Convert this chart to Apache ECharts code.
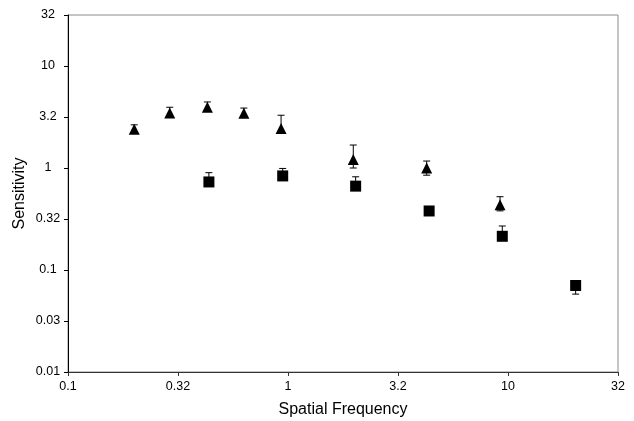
<!DOCTYPE html>
<html>
<head>
<meta charset="utf-8">
<script src="https://cdn.jsdelivr.net/npm/echarts@6/dist/echarts.min.js"></script>
<style>
  html, body { margin: 0; padding: 0; background: #fff; }
  #chart { width: 634px; height: 421px; }
</style>
</head>
<body>
<div id="chart"></div>
<script>
// Sensitivity vs spatial frequency, two conditions (triangles and squares)
const triFreq  = [0.2, 0.29, 0.43, 0.63, 0.93, 1.98, 4.27, 9.2];
const triSens  = [2.40, 3.46, 3.94, 3.44, 2.44, 1.21, 1.00, 0.436];
const triErrHi = [2.65, 3.94, 4.44, 3.87, 3.29, 1.68, 1.17, 0.523];
const triErrLo = [null, null, null, null, null, 1.00, 0.85, 0.38];

const sqFreq  = [0.437, 0.946, 2.03, 4.38, 9.42, 20.3];
const sqSens  = [0.73, 0.836, 0.664, 0.379, 0.214, 0.0705];
const sqErrHi = [0.90, 0.99, 0.82, null, 0.27, null];
const sqErrLo = [null, null, null, null, null, 0.058];

// Half-decade tick labels
const xTickValues = [0.1, 0.32, 1, 3.2, 10, 32];
const xTickLabels = ['0.1', '0.32', '1', '3.2', '10', '32'];
const yTickValues = [0.01, 0.03, 0.1, 0.32, 1, 3.2, 10, 32];
const yTickLabels = ['0.01', '0.03', '0.1', '0.32', '1', '3.2', '10', '32'];

const FONT = '"Liberation Sans", Arial, sans-serif';
const HALF_DECADE = Math.sqrt(10);

function nearestLabel(values, labels) {
  return function (v) {
    let best = 0, bestD = Infinity;
    values.forEach(function (t, i) {
      const d = Math.abs(Math.log10(t) - Math.log10(v));
      if (d < bestD) { bestD = d; best = i; }
    });
    return labels[best];
  };
}

function points(xs, ys) {
  return xs.map(function (x, i) { return [x, ys[i]]; });
}

function errRows(xs, ys, lo, hi) {
  return xs.map(function (x, i) {
    const l = lo[i] == null ? ys[i] : lo[i];
    const h = hi[i] == null ? ys[i] : hi[i];
    return [x, ys[i], l, h];
  });
}

function renderErr(params, api) {
  const x = api.value(0), y = api.value(1), lo = api.value(2), hi = api.value(3);
  const pMid = api.coord([x, y]);
  const pLo = api.coord([x, lo]);
  const pHi = api.coord([x, hi]);
  const cap = 3.5;
  const style = { stroke: '#000', lineWidth: 1 };
  const children = [{
    type: 'line',
    shape: { x1: pMid[0], y1: pLo[1], x2: pMid[0], y2: pHi[1] },
    style: style
  }];
  if (hi > y) {
    children.push({ type: 'line', shape: { x1: pHi[0] - cap, y1: pHi[1], x2: pHi[0] + cap, y2: pHi[1] }, style: style });
  }
  if (lo < y) {
    children.push({ type: 'line', shape: { x1: pLo[0] - cap, y1: pLo[1], x2: pLo[0] + cap, y2: pLo[1] }, style: style });
  }
  return { type: 'group', children: children };
}

const chart = echarts.init(document.getElementById('chart'), null, { renderer: 'canvas' });

chart.setOption({
  animation: false,
  backgroundColor: '#fff',
  textStyle: { fontFamily: FONT },
  grid: {
    left: 68, right: 16, top: 15, bottom: 49,
    outerBoundsMode: 'none',
    show: true, borderColor: '#8c8c8c', borderWidth: 1
  },
  xAxis: {
    type: 'log',
    logBase: HALF_DECADE,
    min: 0.1,
    max: Math.pow(10, 1.5),
    splitNumber: 5,
    name: 'Spatial Frequency',
    nameLocation: 'middle',
    nameGap: 30,
    nameMoveOverlap: false,
    nameTextStyle: { fontFamily: FONT, fontSize: 16, color: '#000' },
    axisLine: { show: true, lineStyle: { color: '#333', width: 1 } },
    axisTick: { show: true, inside: false, length: 4, lineStyle: { color: '#333' } },
    minorTick: { show: false },
    splitLine: { show: false },
    axisLabel: {
      fontFamily: FONT, fontSize: 12.5, color: '#000', margin: 8,
      formatter: nearestLabel(xTickValues, xTickLabels)
    }
  },
  yAxis: {
    type: 'log',
    logBase: HALF_DECADE,
    min: 0.01,
    max: Math.pow(10, 1.5),
    splitNumber: 7,
    name: 'Sensitivity',
    nameLocation: 'middle',
    nameGap: 40,
    nameMoveOverlap: false,
    nameTextStyle: { fontFamily: FONT, fontSize: 16, color: '#000' },
    axisLine: { show: true, lineStyle: { color: '#000', width: 1 } },
    axisTick: { show: true, inside: false, length: 4, lineStyle: { color: '#000' } },
    minorTick: { show: false },
    splitLine: { show: false },
    axisLabel: {
      fontFamily: FONT, fontSize: 12.5, color: '#000', margin: 20, align: 'center',
      formatter: nearestLabel(yTickValues, yTickLabels)
    }
  },
  series: [
    {
      name: 'triangle error',
      type: 'custom',
      renderItem: renderErr,
      data: errRows(triFreq, triSens, triErrLo, triErrHi),
      encode: { x: 0, y: 1 },
      z: 1,
      silent: true
    },
    {
      name: 'square error',
      type: 'custom',
      renderItem: renderErr,
      data: errRows(sqFreq, sqSens, sqErrLo, sqErrHi),
      encode: { x: 0, y: 1 },
      z: 1,
      silent: true
    },
    {
      name: 'triangles',
      type: 'scatter',
      symbol: 'triangle',
      symbolSize: [11, 11],
      itemStyle: { color: '#000', opacity: 1 },
      data: points(triFreq, triSens),
      z: 3
    },
    {
      name: 'squares',
      type: 'scatter',
      symbol: 'rect',
      symbolSize: 11,
      itemStyle: { color: '#000', opacity: 1 },
      data: points(sqFreq, sqSens),
      z: 3
    }
  ]
});
</script>
</body>
</html>
